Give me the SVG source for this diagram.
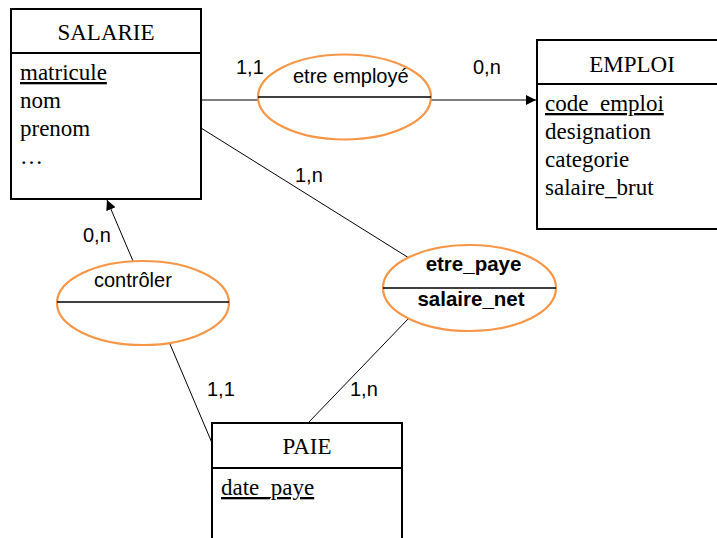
<svg xmlns="http://www.w3.org/2000/svg" width="717" height="538" viewBox="0 0 717 538">
  <style>
    .box { fill: #ffffff; stroke: #000000; stroke-width: 2; }
    .sep { stroke: #000000; stroke-width: 2; }
    .rel { fill: #ffffff; stroke: #F79646; stroke-width: 2.2; }
    .rsep { stroke: #000000; stroke-width: 1.3; }
    .link { stroke: #000000; stroke-width: 1; fill: none; }
    .title { font-family: "Liberation Serif", "Times New Roman", serif; font-size: 23px; fill: #000000; text-anchor: middle; }
    .attr { font-family: "Liberation Serif", "Times New Roman", serif; font-size: 23px; fill: #000000; }
    .key { text-decoration: underline; }
    .lbl { font-family: "Liberation Sans", Arial, sans-serif; font-size: 20px; fill: #000000; }
    .lblb { font-family: "Liberation Sans", Arial, sans-serif; font-size: 20.5px; font-weight: bold; fill: #000000; text-anchor: middle; }
  </style>
  <defs>
    <marker id="arrow" viewBox="0 0 10 10" refX="10" refY="5" markerWidth="10" markerHeight="10" markerUnits="userSpaceOnUse" orient="auto">
      <path d="M0,0 L10,5 L0,10 Z" fill="#000000"/>
    </marker>
  </defs>

  <rect width="717" height="538" fill="#ffffff"/>

  <!-- connectors -->
  <g id="connectors">
    <line class="link" x1="201" y1="100" x2="536" y2="100" marker-end="url(#arrow)"/>
    <line class="link" x1="201" y1="128" x2="409" y2="258"/>
    <line class="link" x1="409" y1="318" x2="308" y2="423"/>
    <line class="link" x1="133" y1="261" x2="107" y2="200" marker-end="url(#arrow)"/>
    <line class="link" x1="170" y1="344" x2="212" y2="443"/>
  </g>

  <!-- cardinalities -->
  <g id="cardinalities">
    <text class="lbl" x="236" y="74">1,1</text>
    <text class="lbl" x="473" y="74">0,n</text>
    <text class="lbl" x="295" y="182">1,n</text>
    <text class="lbl" x="83" y="242">0,n</text>
    <text class="lbl" x="207" y="396">1,1</text>
    <text class="lbl" x="350" y="396">1,n</text>
  </g>

  <!-- entity SALARIE -->
  <g id="salarie">
    <rect class="box" x="11" y="9" width="190" height="190"/>
    <line class="sep" x1="11" y1="53" x2="201" y2="53"/>
    <text class="title" x="106" y="40">SALARIE</text>
    <text class="attr key" x="20" y="80">matricule</text>
    <text class="attr" x="20" y="108">nom</text>
    <text class="attr" x="20" y="136">prenom</text>
    <text class="attr" x="20" y="164">…</text>
  </g>

  <!-- entity EMPLOI -->
  <g id="emploi">
    <rect class="box" x="537" y="40" width="190" height="189"/>
    <line class="sep" x1="537" y1="84" x2="727" y2="84"/>
    <text class="title" x="632" y="72">EMPLOI</text>
    <text class="attr key" x="545" y="111">code_emploi</text>
    <text class="attr" x="545" y="139">designation</text>
    <text class="attr" x="545" y="167">categorie</text>
    <text class="attr" x="545" y="195">salaire_brut</text>
  </g>

  <!-- entity PAIE -->
  <g id="paie">
    <rect class="box" x="212" y="423" width="190" height="130"/>
    <line class="sep" x1="212" y1="468" x2="402" y2="468"/>
    <text class="title" x="307" y="454">PAIE</text>
    <text class="attr key" x="221" y="495">date_paye</text>
  </g>

  <!-- relation etre employé -->
  <g id="etre-employe">
    <ellipse class="rel" cx="344.5" cy="97" rx="86.5" ry="42.5"/>
    <line class="rsep" x1="258" y1="97" x2="431" y2="97"/>
    <text class="lbl" x="293" y="83">etre employé</text>
  </g>

  <!-- relation etre_paye -->
  <g id="etre-paye">
    <ellipse class="rel" cx="469.5" cy="288" rx="86.5" ry="43"/>
    <line class="rsep" x1="383" y1="288" x2="556" y2="288"/>
    <text class="lblb" x="473.5" y="271">etre_paye</text>
    <text class="lblb" x="471" y="306">salaire_net</text>
  </g>

  <!-- relation contrôler -->
  <g id="controler">
    <ellipse class="rel" cx="143" cy="303" rx="86" ry="42"/>
    <line class="rsep" x1="57" y1="302" x2="229" y2="302"/>
    <text class="lbl" x="94" y="287">contrôler</text>
  </g>
</svg>
